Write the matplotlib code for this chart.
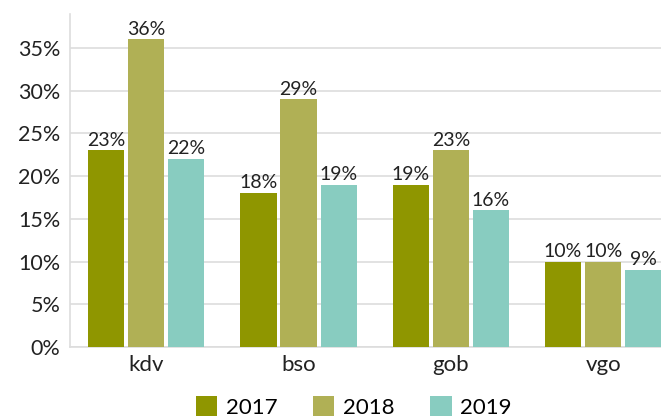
import numpy as np
import matplotlib
matplotlib.use("Agg")
import matplotlib.pyplot as plt
from matplotlib.transforms import Bbox, TransformedBbox

# data
categories = ["kdv", "bso", "gob", "vgo"]
years = ["2017", "2018", "2019"]
values_2017 = [23, 18, 19, 10]
values_2018 = [36, 29, 23, 10]
values_2019 = [22, 19, 16, 9]
yticks = [0, 5, 10, 15, 20, 25, 30, 35]

colors = ["#8f9600", "#b0b055", "#88ccc0"]

plt.rcParams["font.family"] = ["Lato", "DejaVu Sans"]

fig = plt.figure(figsize=(6.61, 4.19), dpi=100)
ax = fig.add_axes([0.106, 0.172, 0.894, 0.795])

x = np.arange(len(categories))
width = 0.237
step = 0.263
series = [values_2017, values_2018, values_2019]
for i, (vals, year) in enumerate(zip(series, years)):
    bars = ax.bar(x + (i - 1) * step, vals, width, color=colors[i],
                  label=year, zorder=3)
    for b, v in zip(bars, vals):
        ax.text(b.get_x() + b.get_width() / 2, v + 0.2, f"{v}%",
                ha="center", va="bottom", fontsize=14, color="#222222")

ax.set_xlim(-0.5, 3.38)
ax.set_ylim(0, 39)
ax.set_yticks(yticks)
ax.set_yticklabels([f"{t}%" for t in yticks], fontsize=15.5, color="#222222")
ax.set_xticks(x)
ax.set_xticklabels(categories, fontsize=16, color="#222222")
ax.tick_params(axis="both", length=0)
ax.tick_params(axis="y", pad=7)
ax.tick_params(axis="x", pad=6)

# the 40% label is cut off: the chart area above ~13px is blank
top_label = ax.annotate("40%", xy=(0, 40), xycoords=ax.get_yaxis_transform(),
                        xytext=(-7, 0), textcoords="offset points", ha="right",
                        va="center", fontsize=15.5, color="#222222",
                        annotation_clip=False)
top_label.set_clip_box(TransformedBbox(Bbox([[0, 0], [1, 405 / 419]]),
                                       fig.transFigure))
top_label.set_clip_on(True)

ax.grid(axis="y", color="#dddddd", linewidth=1.2, zorder=0)
for side in ["top", "right"]:
    ax.spines[side].set_visible(False)
ax.spines["left"].set_color("#dddddd")
ax.spines["bottom"].set_color("#dddddd")
ax.spines["left"].set_linewidth(1.2)
ax.spines["bottom"].set_linewidth(1.2)

handles, labels = ax.get_legend_handles_labels()
fig.legend(handles, labels, loc="center", bbox_to_anchor=(354 / 661, 12 / 419),
           ncol=3, frameon=False, fontsize=16, handlelength=0.95,
           handleheight=0.95, columnspacing=1.6, handletextpad=0.4,
           borderpad=0, borderaxespad=0)

fig.savefig("out.png", dpi=100)
